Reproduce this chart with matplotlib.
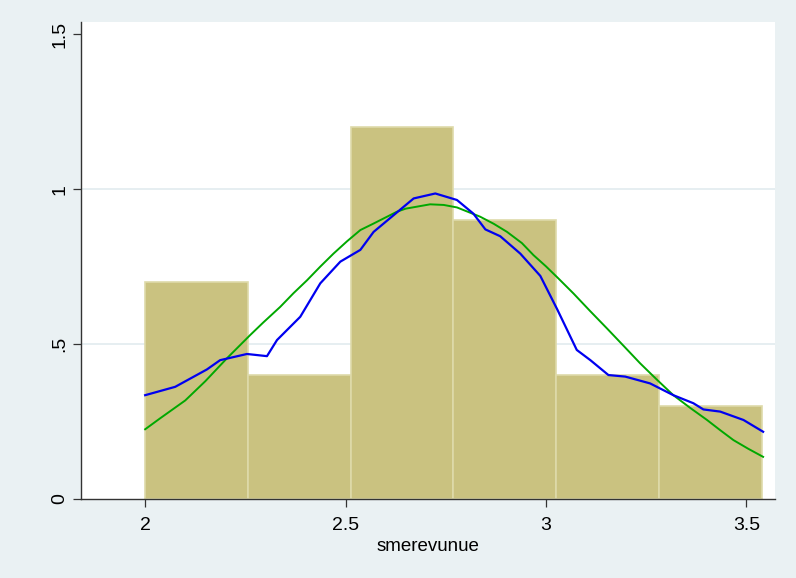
import numpy as np
import matplotlib.pyplot as plt

plt.rcParams['font.family'] = ['Liberation Sans', 'DejaVu Sans']

# histogram (density) for smerevunue, 6 bins
bin_edges = [2.0, 2.2564, 2.5128, 2.7692, 3.0256, 3.2820, 3.5385]
densities = [0.7, 0.4, 1.2, 0.9, 0.4, 0.3]

# kernel density (blue)
kd_x = [2.000, 2.075, 2.154, 2.187, 2.254, 2.304, 2.329, 2.387, 2.437, 2.487,
        2.537, 2.570, 2.620, 2.670, 2.724, 2.778, 2.819, 2.849, 2.886, 2.936,
        2.986, 3.029, 3.077, 3.111, 3.156, 3.198, 3.260, 3.318, 3.368, 3.393,
        3.435, 3.493, 3.542]
kd_y = [0.335, 0.362, 0.418, 0.448, 0.468, 0.461, 0.513, 0.588, 0.696, 0.766,
        0.804, 0.862, 0.916, 0.970, 0.986, 0.965, 0.921, 0.870, 0.848, 0.792,
        0.720, 0.610, 0.481, 0.448, 0.400, 0.395, 0.373, 0.335, 0.309, 0.289,
        0.282, 0.255, 0.217]

# normal density (green)
nd_x = [2.000, 2.037, 2.100, 2.150, 2.204, 2.262, 2.295, 2.337, 2.370, 2.404,
        2.437, 2.470, 2.504, 2.537, 2.570, 2.628, 2.650, 2.711, 2.745, 2.778,
        2.836, 2.870, 2.903, 2.940, 2.969, 3.000, 3.031, 3.069, 3.110, 3.152,
        3.194, 3.235, 3.277, 3.318, 3.360, 3.402, 3.435, 3.468, 3.505, 3.542]
nd_y = [0.225, 0.260, 0.318, 0.380, 0.454, 0.529, 0.570, 0.620, 0.664, 0.706,
        0.750, 0.792, 0.832, 0.868, 0.889, 0.927, 0.937, 0.951, 0.949, 0.941,
        0.911, 0.888, 0.862, 0.826, 0.787, 0.751, 0.712, 0.663, 0.607, 0.551,
        0.494, 0.438, 0.385, 0.335, 0.294, 0.255, 0.222, 0.190, 0.162, 0.136]

bg = '#EAF1F3'
fig = plt.figure(figsize=(7.96, 5.78), dpi=100, facecolor=bg)
ax = fig.add_axes([0.1018, 0.1367, 0.872, 0.825])
ax.set_facecolor('white')

ax.set_axisbelow(True)
ax.yaxis.grid(True, color='#E6EEF1', linewidth=1.4)

ax.bar(bin_edges[:-1], densities, width=np.diff(bin_edges), align='edge',
       color='#CAC280', edgecolor='#DEDAAA', linewidth=1.2, zorder=2)
ax.plot(nd_x, nd_y, color='#00A800', linewidth=1.4, zorder=3)
ax.plot(kd_x, kd_y, color='#0000F0', linewidth=1.6, zorder=4)

ax.set_xlim(1.840, 3.572)
ax.set_ylim(0, 1.539)
ax.set_xticks([2, 2.5, 3, 3.5])
ax.set_xticklabels(['2', '2.5', '3', '3.5'])
ax.set_yticks([0, 0.5, 1, 1.5])
ax.set_yticklabels(['0', '.5', '1', '1.5'], rotation=90, va='center')
ax.tick_params(labelsize=14, length=6, width=0.9, color='#333333', pad=7)
ax.tick_params(axis='y', pad=3)
ax.set_xlabel('smerevunue', fontsize=13.5, labelpad=3)

for side in ['top', 'right']:
    ax.spines[side].set_visible(False)
for side in ['left', 'bottom']:
    ax.spines[side].set_color('#333333')
    ax.spines[side].set_linewidth(1.0)

# no grid lines at the bottom and top ticks
ax.yaxis.get_gridlines()[-1].set_visible(False)
ax.yaxis.get_gridlines()[0].set_visible(False)

fig.savefig('out.png', dpi=100, facecolor=bg)
